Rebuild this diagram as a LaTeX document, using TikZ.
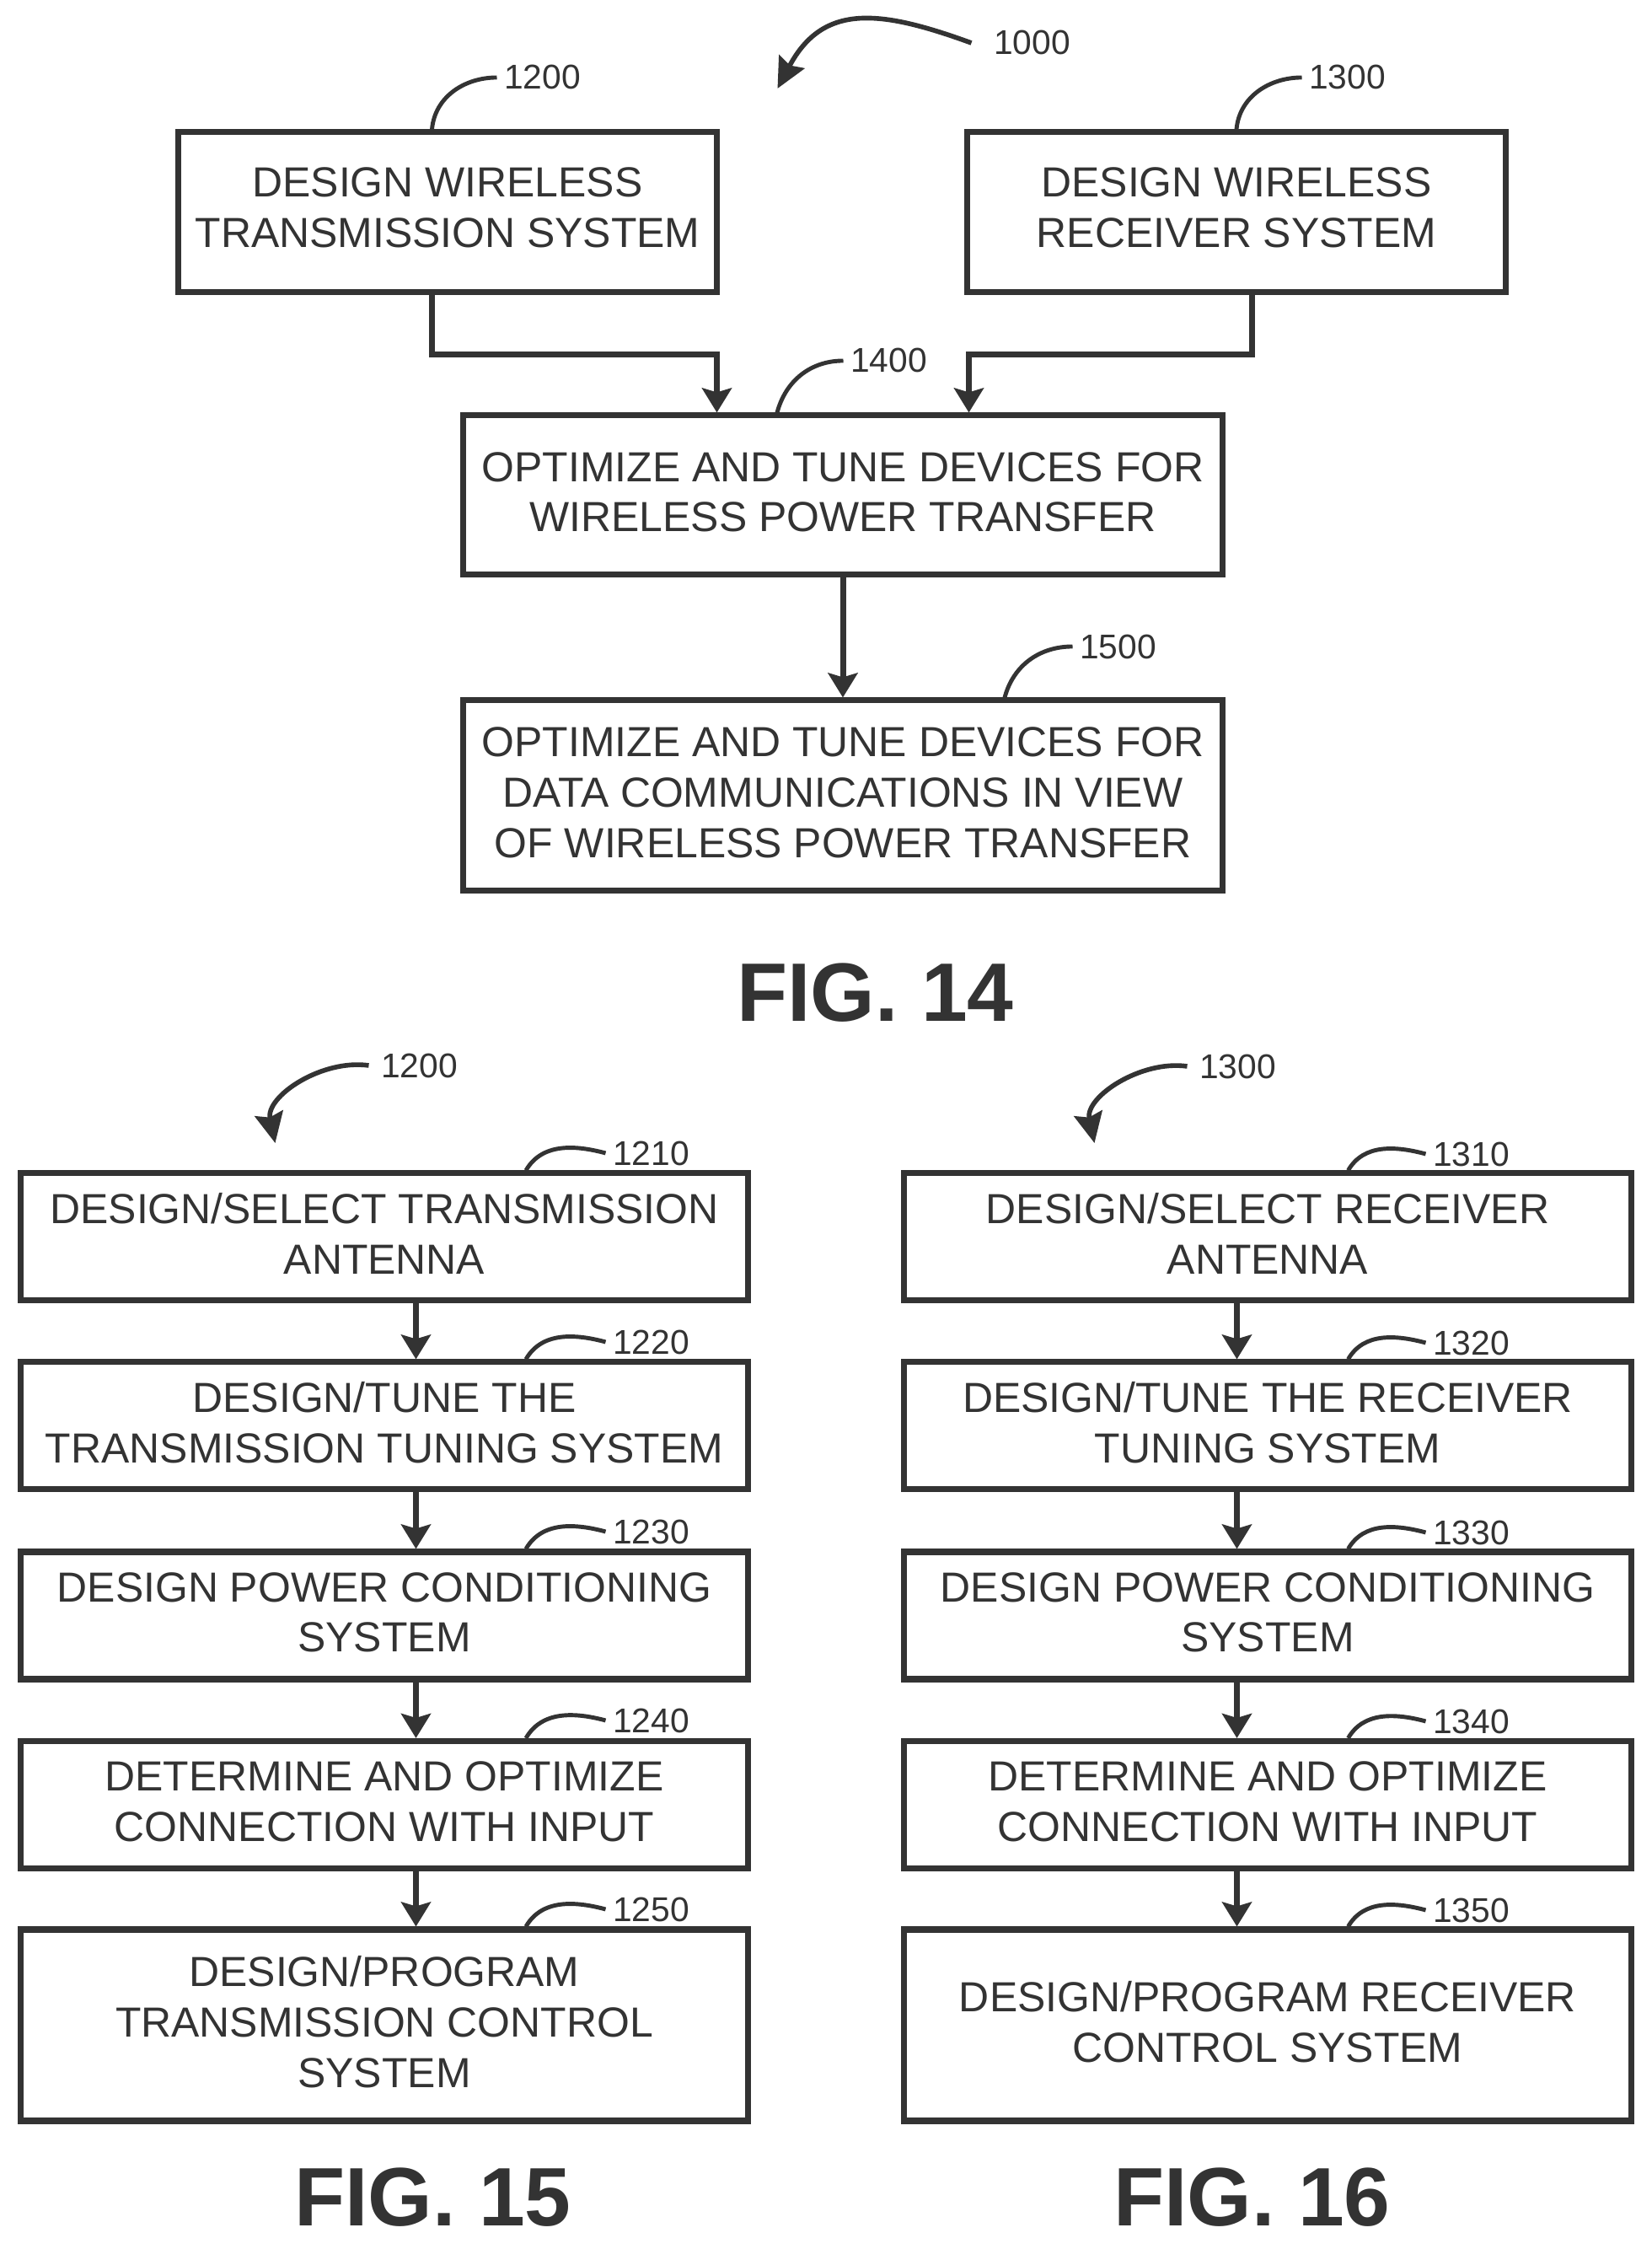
\documentclass[tikz,border=0pt]{standalone}
\usepackage{fontspec}
\setmainfont{Liberation Sans}
\usetikzlibrary{arrows.meta}
\definecolor{ink}{gray}{0.2}
\tikzset{
	procbox/.style={draw=ink, line width=2pt, align=center, text=ink, inner sep=0pt, text depth=0.08cm, font=\fontsize{14.2}{17}\selectfont},
	wide/.style={procbox, text depth=0.12cm, minimum width=6.39cm, minimum height=1.90cm},
	mid/.style={procbox, minimum width=9.01cm},
	col/.style={procbox, minimum width=8.63cm, minimum height=1.51cm},
	tag/.style={anchor=west, text=ink, inner sep=0pt, inner xsep=0.08cm, font=\fontsize{11.6}{14}\selectfont},
	figlabel/.style={text=ink, inner sep=0pt, font=\fontsize{28}{34}\selectfont\bfseries},
	flow/.style={draw=ink, line width=2pt, -{Stealth[length=2.9mm,width=3.5mm,inset=0.5mm]}},
	leader/.style={draw=ink, line width=1.4pt},
	callout/.style={draw=ink, line width=1.6pt, -{Stealth[length=3.6mm,width=3.4mm,inset=0.5mm]}}
}

\begin{document}
\begin{tikzpicture}
			\useasboundingbox (-0.025,0.02) rectangle (19.565,26.70);

			\node[wide] (dtx) at (5.285,24.18) {DESIGN WIRELESS\\TRANSMISSION SYSTEM};
			\node[wide] (drx) at (14.645,24.18) {DESIGN WIRELESS\\RECEIVER SYSTEM};
			\node[mid, minimum height=1.89cm] (optpower) at (9.975,20.825) {OPTIMIZE AND TUNE DEVICES FOR\\WIRELESS POWER TRANSFER};
			\node[mid, minimum height=2.26cm] (optdata) at (9.975,17.26) {OPTIMIZE AND TUNE DEVICES FOR\\DATA COMMUNICATIONS IN VIEW\\OF WIRELESS POWER TRANSFER};
			\node[figlabel] (fig14) at (10.36,14.92) {FIG. 14};

			\node[col] (txant) at (4.535,12.025) {DESIGN/SELECT TRANSMISSION\\ANTENNA};
			\node[col] (txtune) at (4.535,9.785) {DESIGN/TUNE THE\\TRANSMISSION TUNING SYSTEM};
			\node[col] (txpower) at (4.535,7.535) {DESIGN POWER CONDITIONING\\SYSTEM};
			\node[col] (txinput) at (4.535,5.29) {DETERMINE AND OPTIMIZE\\CONNECTION WITH INPUT};
			\node[col, minimum height=2.27cm] (txctrl) at (4.535,2.675) {DESIGN/PROGRAM\\TRANSMISSION CONTROL\\SYSTEM};
			\node[figlabel] (fig15) at (5.11,0.63) {FIG. 15};

			\node[col] (rxant) at (15.015,12.025) {DESIGN/SELECT RECEIVER\\ANTENNA};
			\node[col] (rxtune) at (15.015,9.785) {DESIGN/TUNE THE RECEIVER\\TUNING SYSTEM};
			\node[col] (rxpower) at (15.015,7.535) {DESIGN POWER CONDITIONING\\SYSTEM};
			\node[col] (rxinput) at (15.015,5.29) {DETERMINE AND OPTIMIZE\\CONNECTION WITH INPUT};
			\node[col, minimum height=2.27cm] (rxctrl) at (15.015,2.675) {DESIGN/PROGRAM RECEIVER\\CONTROL SYSTEM};
			\node[figlabel] (fig16) at (14.83,0.63) {FIG. 16};

			\draw[flow] ([xshift=-0.185cm]dtx.south) -- ++(0,-0.70) -| ([xshift=-1.495cm]optpower.north);
			\draw[flow] ([xshift=0.185cm]drx.south) -- ++(0,-0.70) -| ([xshift=1.495cm]optpower.north);
			\draw[flow] (optpower.south) -- (optdata.north);

			\draw[flow] ([xshift=0.375cm]txant.south) -- ([xshift=0.375cm]txtune.north);
			\draw[flow] ([xshift=0.375cm]txtune.south) -- ([xshift=0.375cm]txpower.north);
			\draw[flow] ([xshift=0.375cm]txpower.south) -- ([xshift=0.375cm]txinput.north);
			\draw[flow] ([xshift=0.375cm]txinput.south) -- ([xshift=0.375cm]txctrl.north);

			\draw[flow] ([xshift=-0.365cm]rxant.south) -- ([xshift=-0.365cm]rxtune.north);
			\draw[flow] ([xshift=-0.365cm]rxtune.south) -- ([xshift=-0.365cm]rxpower.north);
			\draw[flow] ([xshift=-0.365cm]rxpower.south) -- ([xshift=-0.365cm]rxinput.north);
			\draw[flow] ([xshift=-0.365cm]rxinput.south) -- ([xshift=-0.365cm]rxctrl.north);

			\node[tag] (tag1000) at (11.68,26.19) {1000};
			\node[tag] (tag1200) at (5.87,25.78) {1200};
			\node[tag] (tag1300) at (15.42,25.78) {1300};
			\node[tag] (tag1400) at (9.98,22.42) {1400};
			\node[tag] (tag1500) at (12.70,19.03) {1500};
			\node[tag] (sub1200) at (4.41,14.06) {1200};
			\node[tag] (sub1300) at (14.12,14.05) {1300};
			\node[tag] (tag1210) at (7.16,13.02) {1210};
			\node[tag] (tag1220) at (7.16,10.78) {1220};
			\node[tag] (tag1230) at (7.16,8.53) {1230};
			\node[tag] (tag1240) at (7.16,6.29) {1240};
			\node[tag] (tag1250) at (7.16,4.05) {1250};
			\node[tag] (tag1310) at (16.89,13.01) {1310};
			\node[tag] (tag1320) at (16.89,10.77) {1320};
			\node[tag] (tag1330) at (16.89,8.52) {1330};
			\node[tag] (tag1340) at (16.89,6.28) {1340};
			\node[tag] (tag1350) at (16.89,4.04) {1350};

			\coordinate (tip1000) at (9.20,25.65);
			\coordinate (tip1200) at (3.24,13.14);
			\coordinate (tip1300) at (12.96,13.14);

			\draw[callout] ([xshift=-0.18cm]tag1000.west) to[out=160,in=62,looseness=1.25] (tip1000);
			\draw[callout] ([xshift=-0.06cm]sub1200.west) to[out=172,in=102] (tip1200);
			\draw[callout] ([xshift=-0.06cm]sub1300.west) to[out=172,in=102] (tip1300);

			\draw[leader] ([xshift=-0.185cm]dtx.north) to[out=85,in=180] (tag1200.west);
			\draw[leader] (drx.north) to[out=85,in=180] (tag1300.west);
			\draw[leader] ([xshift=-0.78cm]optpower.north) to[out=75,in=180] (tag1400.west);
			\draw[leader] ([xshift=1.92cm]optdata.north) to[out=75,in=180] (tag1500.west);

			\draw[leader] ([xshift=1.68cm]txant.north) to[out=60,in=165] (tag1210.west);
			\draw[leader] ([xshift=1.68cm]txtune.north) to[out=60,in=165] (tag1220.west);
			\draw[leader] ([xshift=1.68cm]txpower.north) to[out=60,in=165] (tag1230.west);
			\draw[leader] ([xshift=1.68cm]txinput.north) to[out=60,in=165] (tag1240.west);
			\draw[leader] ([xshift=1.68cm]txctrl.north) to[out=60,in=165] (tag1250.west);

			\draw[leader] ([xshift=0.955cm]rxant.north) to[out=60,in=165] (tag1310.west);
			\draw[leader] ([xshift=0.955cm]rxtune.north) to[out=60,in=165] (tag1320.west);
			\draw[leader] ([xshift=0.955cm]rxpower.north) to[out=60,in=165] (tag1330.west);
			\draw[leader] ([xshift=0.955cm]rxinput.north) to[out=60,in=165] (tag1340.west);
			\draw[leader] ([xshift=0.955cm]rxctrl.north) to[out=60,in=165] (tag1350.west);

		\end{tikzpicture}
\end{document}
